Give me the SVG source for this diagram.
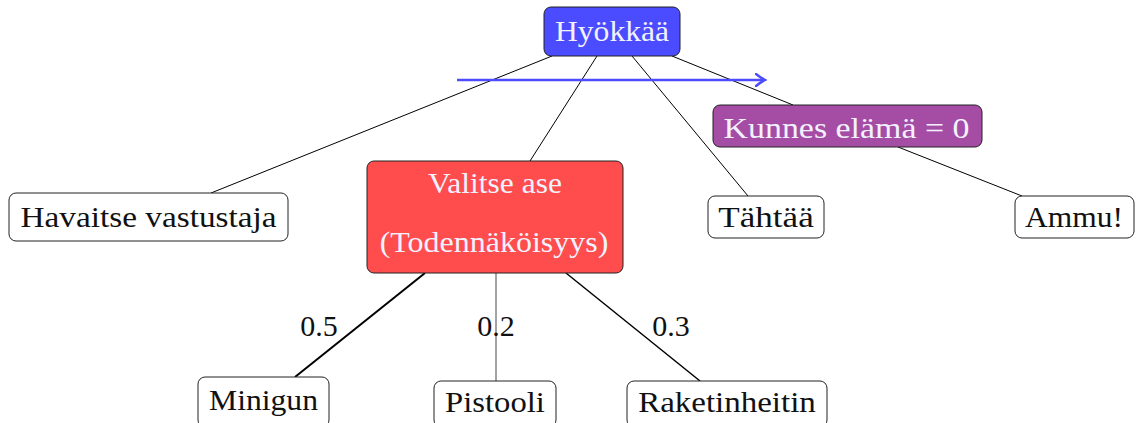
<svg xmlns="http://www.w3.org/2000/svg" width="1138" height="423" viewBox="0 0 1138 423">
<defs>
<style>
.box{stroke:#222;stroke-width:1}
.w{fill:#fff}
.c{stroke:#000;stroke-width:1;fill:none}
</style>
<marker id="ah" markerWidth="12" markerHeight="14" refX="9" refY="7" orient="auto" markerUnits="userSpaceOnUse">
<path d="M1,1 Q6,5 10,7 Q6,9 1,13" fill="none" stroke="#4d4dff" stroke-width="2.5" stroke-linecap="round"/>
</marker>
</defs>
<g id="connectors">
<line class="c" x1="552" y1="56" x2="211" y2="193"/>
<line class="c" x1="597" y1="56" x2="530" y2="161"/>
<line class="c" x1="632" y1="56" x2="748" y2="196"/>
<line class="c" x1="672" y1="56" x2="793" y2="105"/>
<line class="c" x1="898" y1="147" x2="1022" y2="196"/>
<line x1="425" y1="273" x2="295" y2="377" stroke="#000" stroke-width="2"/>
<line x1="496" y1="273" x2="496" y2="381" stroke="#666" stroke-width="1.2"/>
<line x1="566" y1="273" x2="700" y2="381" stroke="#000" stroke-width="1.5"/>
<line x1="457" y1="80" x2="764" y2="80" stroke="#4d4dff" stroke-width="2.5" marker-end="url(#ah)"/>
<g font-family="Liberation Serif" font-size="30" text-anchor="middle" fill="#111">
<text x="319" y="336">0.5</text>
<text x="496" y="336">0.2</text>
<text x="671" y="336">0.3</text>
</g>
</g>
<g id="hyokkaa">
<rect class="box" x="544" y="7" width="136" height="49" rx="7" fill="#4b4bff"/>
<text transform="translate(612,41) scale(1.055,1)" font-family="Liberation Serif" font-size="30" text-anchor="middle" fill="#f2f2ff">Hyökkää</text>
</g>
<g id="havaitse">
<rect class="box w" x="9" y="193" width="279" height="48" rx="7"/>
<text transform="translate(148.5,227) scale(1.11,1)" font-family="Liberation Serif" font-size="30" text-anchor="middle" fill="#111">Havaitse vastustaja</text>
</g>
<g id="valitse">
<rect class="box" x="367" y="161" width="256" height="112" rx="7" fill="#ff4d4d"/>
<text transform="translate(495,193) scale(1.05,1)" font-family="Liberation Serif" font-size="30" text-anchor="middle" fill="#f2f2ff">Valitse ase</text>
<text transform="translate(494,252) scale(1.066,1)" font-family="Liberation Serif" font-size="30" text-anchor="middle" fill="#f2f2ff">(Todennäköisyys)</text>
</g>
<g id="tahtaa">
<rect class="box w" x="708" y="196" width="116" height="42" rx="7"/>
<text transform="translate(766,227) scale(1.17,1)" font-family="Liberation Serif" font-size="30" text-anchor="middle" fill="#111">Tähtää</text>
</g>
<g id="kunnes">
<rect class="box" x="713" y="105" width="269" height="42" rx="7" fill="#a54ca5"/>
<text transform="translate(846.5,138) scale(1.13,1)" font-family="Liberation Serif" font-size="30" text-anchor="middle" fill="#f2f2ff">Kunnes elämä = 0</text>
</g>
<g id="ammu">
<rect class="box w" x="1015" y="196" width="119" height="42" rx="7"/>
<text transform="translate(1074,227) scale(1.05,1)" font-family="Liberation Serif" font-size="30" text-anchor="middle" fill="#111">Ammu!</text>
</g>
<g id="minigun">
<rect class="box w" x="198" y="377" width="131" height="50" rx="7"/>
<text transform="translate(263.5,410) scale(1.055,1)" font-family="Liberation Serif" font-size="30" text-anchor="middle" fill="#111">Minigun</text>
</g>
<g id="pistooli">
<rect class="box w" x="434" y="381" width="122" height="46" rx="7"/>
<text transform="translate(495,412) scale(1.09,1)" font-family="Liberation Serif" font-size="30" text-anchor="middle" fill="#111">Pistooli</text>
</g>
<g id="raketinheitin">
<rect class="box w" x="627" y="381" width="200" height="46" rx="7"/>
<text transform="translate(727,412) scale(1.1,1)" font-family="Liberation Serif" font-size="30" text-anchor="middle" fill="#111">Raketinheitin</text>
</g>
</svg>
